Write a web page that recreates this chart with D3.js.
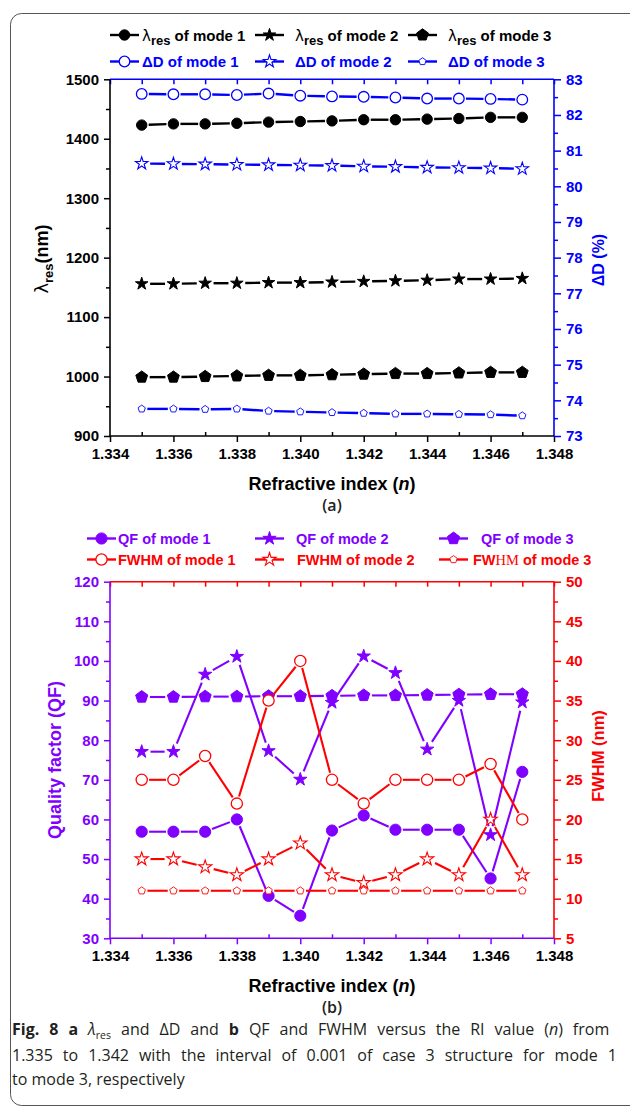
<!DOCTYPE html>
<html><head><meta charset="utf-8">
<script src="https://cdn.jsdelivr.net/npm/d3@7"></script>
<style>
body{margin:0;background:#fff}
svg{display:block}
text{font-family:"Liberation Sans",Arial,sans-serif}
</style>
</head><body>
<svg id="c" width="630" height="1108"></svg>
<script>
// ---------- DATA ----------
const refractiveIndex = [1.335,1.336,1.337,1.338,1.339,1.340,1.341,1.342,1.343,1.344,1.345,1.346,1.347];
const xMajorTicks = [1.334,1.336,1.338,1.340,1.342,1.344,1.346,1.348];
const xMinorTicks = [1.335,1.337,1.339,1.341,1.343,1.345,1.347];

const lambdaTicks = [900,1000,1100,1200,1300,1400,1500];
const deltaDTicks = [73,74,75,76,77,78,79,80,81,82,83];
const qfTicks = [30,40,50,60,70,80,90,100,110,120];
const fwhmTicks = [5,10,15,20,25,30,35,40,45,50];

const lambdaMode1 = [1423,1425,1425,1426,1428,1429,1430,1432,1432,1433,1434,1436,1436];
const lambdaMode2 = [1156,1156,1157,1157,1158,1158,1159,1160,1161,1162,1164,1164,1165];
const lambdaMode3 = [999,999,1000,1001,1002,1002,1003,1004,1005,1005,1006,1007,1007];
const deltaDMode1 = [82.59,82.58,82.58,82.56,82.60,82.54,82.52,82.51,82.49,82.46,82.46,82.45,82.43];
const deltaDMode2 = [80.64,80.63,80.62,80.61,80.60,80.59,80.58,80.56,80.55,80.53,80.52,80.51,80.49];
const deltaDMode3 = [73.76,73.76,73.75,73.76,73.70,73.68,73.66,73.64,73.62,73.62,73.61,73.60,73.57];

const qfMode1 = [56.9,56.9,56.9,60.0,40.7,35.7,57.2,61.0,57.4,57.4,57.4,45.1,72.0];
const qfMode2 = [77.1,77.1,96.6,101.1,77.3,70.1,89.5,101.2,97.0,77.7,90.0,56.1,89.6];
const qfMode3 = [90.9,90.9,91.0,91.0,91.1,91.1,91.2,91.3,91.3,91.4,91.5,91.6,91.6];
const fwhmMode1 = [25,25,28,22,35,40,25,22,25,25,25,27,20];
const fwhmMode2 = [15,15,14,13,15,17,13,12,13,15,13,20,13];
const fwhmMode3 = [11,11,11,11,11,11,11,11,11,11,11,11,11];

// ---------- STYLE ----------
const BLACK="#000000", BLUE="#0000ff", PURPLE="#8000ff", RED="#ff0000";
const svg = d3.select("#c");

// border of figure panel
svg.append("rect").attr("x",10.5).attr("y",13.5).attr("width",660).attr("height",1092)
  .attr("rx",11).attr("fill","none").attr("stroke","#555").attr("stroke-width",1);

// ---------- marker helpers ----------
function starPath(R){
  const r=R*0.382, pts=[];
  for(let k=0;k<10;k++){const a=-Math.PI/2+k*Math.PI/5, rr=k%2?r:R; pts.push([rr*Math.cos(a),rr*Math.sin(a)]);}
  return "M"+pts.map(p=>p.join(",")).join("L")+"Z";
}
function pentPath(R){
  const pts=[];
  for(let k=0;k<5;k++){const a=-Math.PI/2+k*2*Math.PI/5; pts.push([R*Math.cos(a),R*Math.sin(a)]);}
  return "M"+pts.map(p=>p.join(",")).join("L")+"Z";
}
function drawMarker(g,x,y,m,color){
  let el;
  if(m.shape==="circle") el=g.append("circle").attr("cx",x).attr("cy",y).attr("r",m.size);
  else el=g.append("path").attr("transform",`translate(${x},${y})`).attr("d",m.shape==="star"?starPath(m.size):pentPath(m.size));
  el.attr("fill",m.filled?color:"#fff").attr("stroke",color).attr("stroke-width",m.filled?1:(m.sw||1.3)).attr("stroke-linejoin","miter");
}
function drawSeries(g,xs,ys,xS,yS,color,m,lw){
  const pts=xs.map((v,i)=>[xS(v),yS(ys[i])]);
  const gap=m.size+1.8;
  for(let i=0;i<pts.length-1;i++){
    const [x1,y1]=pts[i],[x2,y2]=pts[i+1];
    const dx=x2-x1,dy=y2-y1,L=Math.hypot(dx,dy);
    if(L<=2*gap) continue;
    const ux=dx/L,uy=dy/L;
    g.append("line").attr("x1",x1+ux*gap).attr("y1",y1+uy*gap).attr("x2",x2-ux*gap).attr("y2",y2-uy*gap)
      .attr("stroke",color).attr("stroke-width",lw);
  }
  pts.forEach(p=>drawMarker(g,p[0],p[1],m,color));
}
function styleAxis(g,color,labelColor,fs){
  g.select(".domain").remove();
  g.selectAll(".tick line").attr("stroke",color).attr("stroke-width",1.5);
  g.selectAll(".tick text").attr("fill",labelColor).style("font-family","Liberation Sans").style("font-weight","bold").style("font-size",fs+"px");
}
function frame(g,P,cLeft,cBottom,cTop,cRight){
  const w=1.6;
  g.append("line").attr("x1",P.x0).attr("x2",P.x1).attr("y1",P.y0).attr("y2",P.y0).attr("stroke",cTop).attr("stroke-width",w);
  g.append("line").attr("x1",P.x1).attr("x2",P.x1).attr("y1",P.y0).attr("y2",P.y1).attr("stroke",cRight).attr("stroke-width",w);
  g.append("line").attr("x1",P.x0).attr("x2",P.x1).attr("y1",P.y1).attr("y2",P.y1).attr("stroke",cBottom).attr("stroke-width",w);
  g.append("line").attr("x1",P.x0).attr("x2",P.x0).attr("y1",P.y0).attr("y2",P.y1+0.8).attr("stroke",cLeft).attr("stroke-width",w);
}
function minorVals(arr){const out=[];for(let i=0;i<arr.length-1;i++)out.push((arr[i]+arr[i+1])/2);return out;}

function buildPanel(P,yLeftDom,yRightDom,leftTicks,rightTicks,cLeft,cRight,cTop,cBottom){
  const g=svg.append("g");
  const x=d3.scaleLinear().domain([1.334,1.348]).range([P.x0,P.x1]);
  const yL=d3.scaleLinear().domain(yLeftDom).range([P.y1,P.y0]);
  const yR=d3.scaleLinear().domain(yRightDom).range([P.y1,P.y0]);
  const gb=g.append("g").attr("transform",`translate(0,${P.y1})`)
    .call(d3.axisBottom(x).tickValues(xMajorTicks).tickSize(6).tickPadding(6).tickFormat(d3.format(".3f")));
  styleAxis(gb,cBottom,BLACK,15);
  const gbm=g.append("g").attr("transform",`translate(0,${P.y1})`)
    .call(d3.axisBottom(x).tickValues(xMinorTicks).tickSize(-4).tickFormat(""));
  styleAxis(gbm,cBottom,BLACK,15);
  const gt=g.append("g").attr("transform",`translate(0,${P.y0})`)
    .call(d3.axisTop(x).tickValues(xMajorTicks.concat(xMinorTicks)).tickSize(-5).tickFormat(""));
  styleAxis(gt,cTop,cTop,15);
  const gl=g.append("g").attr("transform",`translate(${P.x0},0)`)
    .call(d3.axisLeft(yL).tickValues(leftTicks).tickSize(6).tickPadding(5).tickFormat(d3.format("d")));
  styleAxis(gl,cLeft,cLeft,15);
  const glm=g.append("g").attr("transform",`translate(${P.x0},0)`)
    .call(d3.axisLeft(yL).tickValues(minorVals(leftTicks)).tickSize(4).tickFormat(""));
  styleAxis(glm,cLeft,cLeft,15);
  const gr=g.append("g").attr("transform",`translate(${P.x1},0)`)
    .call(d3.axisRight(yR).tickValues(rightTicks).tickSize(7).tickPadding(5).tickFormat(d3.format("d")));
  styleAxis(gr,cRight,cRight,15);
  const grm=g.append("g").attr("transform",`translate(${P.x1},0)`)
    .call(d3.axisRight(yR).tickValues(minorVals(rightTicks)).tickSize(4).tickFormat(""));
  styleAxis(grm,cRight,cRight,15);
  frame(g,P,cLeft,cBottom,cTop,cRight);
  return {g,x,yL,yR};
}

// ---------- PANEL A ----------
const PA={x0:110,x1:554,y0:79.3,y1:436};
const A=buildPanel(PA,[900,1500],[73,83],lambdaTicks,deltaDTicks,BLACK,BLUE,BLUE,BLACK);
const mkA={
  c1:{shape:"circle",size:5.2,filled:true}, s1:{shape:"star",size:6.6,filled:true}, p1:{shape:"pent",size:6.2,filled:true},
  oc:{shape:"circle",size:5.3,filled:false,sw:1.3}, os:{shape:"star",size:6.6,filled:false,sw:1.1}, op:{shape:"pent",size:3.8,filled:false,sw:0.9}
};
const seriesA=[
  {data:lambdaMode1,axis:"L",color:BLACK,m:mkA.c1,label:["λ","res"," of mode 1"]},
  {data:lambdaMode2,axis:"L",color:BLACK,m:mkA.s1,label:["λ","res"," of mode 2"]},
  {data:lambdaMode3,axis:"L",color:BLACK,m:mkA.p1,label:["λ","res"," of mode 3"]},
  {data:deltaDMode1,axis:"R",color:BLUE,m:mkA.oc,label:["ΔD of mode 1"]},
  {data:deltaDMode2,axis:"R",color:BLUE,m:mkA.os,label:["ΔD of mode 2"]},
  {data:deltaDMode3,axis:"R",color:BLUE,m:mkA.op,label:["ΔD of mode 3"]}
];
seriesA.forEach(s=>drawSeries(A.g,refractiveIndex,s.data,A.x,s.axis==="L"?A.yL:A.yR,s.color,s.m,2.4));

// ---------- PANEL B ----------
const PB={x0:110,x1:554,y0:581.7,y1:938.3};
const B=buildPanel(PB,[30,120],[5,50],qfTicks,fwhmTicks,PURPLE,RED,RED,PURPLE);
const mkB={
  c1:{shape:"circle",size:5.6,filled:true}, s1:{shape:"star",size:7,filled:true}, p1:{shape:"pent",size:6.4,filled:true},
  oc:{shape:"circle",size:5.6,filled:false,sw:1.3}, os:{shape:"star",size:7,filled:false,sw:1.1}, op:{shape:"pent",size:3.9,filled:false,sw:0.9}
};
const seriesB=[
  {data:qfMode1,axis:"L",color:PURPLE,m:mkB.c1,label:["QF of mode 1"]},
  {data:qfMode2,axis:"L",color:PURPLE,m:mkB.s1,label:["QF of mode 2"]},
  {data:qfMode3,axis:"L",color:PURPLE,m:mkB.p1,label:["QF of mode 3"]},
  {data:fwhmMode1,axis:"R",color:RED,m:mkB.oc,label:["FWHM of mode 1"]},
  {data:fwhmMode2,axis:"R",color:RED,m:mkB.os,label:["FWHM of mode 2"]},
  {data:fwhmMode3,axis:"R",color:RED,m:mkB.op,label:["FW","HM"," of mode 3"],serifPart:true}
];
seriesB.forEach(s=>drawSeries(B.g,refractiveIndex,s.data,B.x,s.axis==="L"?B.yL:B.yR,s.color,s.m,2.1));

// ---------- LEGENDS ----------
function legendItem(x0,yc,s,textX,fs){
  const g=svg.append("g");
  g.append("line").attr("x1",x0).attr("x2",x0+29).attr("y1",yc).attr("y2",yc).attr("stroke",s.color).attr("stroke-width",2.4);
  drawMarker(g,x0+14.5,yc,s.m,s.color);
  const t=g.append("text").attr("x",textX).attr("y",yc+5.5).attr("fill",s.color)
    .style("font-weight","bold").style("font-size",fs+"px");
  if(s.label.length===3 && s.label[0]==="λ"){
    t.append("tspan").text("λ").style("font-weight","normal").style("font-family","DejaVu Sans");
    t.append("tspan").text("res").attr("dy",4).style("font-size",(fs-2)+"px");
    t.append("tspan").text(s.label[2]).attr("dy",-4);
  } else if(s.serifPart){
    t.append("tspan").text(s.label[0]);
    t.append("tspan").text(s.label[1]).style("font-family","Liberation Serif").style("font-weight","normal");
    t.append("tspan").text(s.label[2]);
  } else t.text(s.label[0]);
}
const legAx=[110,255,408], legATx=[142,295,448];
seriesA.forEach((s,i)=>legendItem(legAx[i%3],i<3?35:61.5,s,legATx[i%3],15));
const legBx=[87,255,439], legBTx=[[118,296,481],[118,297,473]];
seriesB.forEach((s,i)=>legendItem(legBx[i%3],i<3?538.5:559.5,s,legBTx[i<3?0:1][i%3],14.5));

// ---------- AXIS TITLES ----------
function xTitle(y,sub,subY){
  const t=svg.append("text").attr("x",332).attr("y",y).attr("text-anchor","middle")
    .style("font-weight","bold").style("font-size","18px").attr("fill",BLACK);
  t.append("tspan").text("Refractive index (");
  t.append("tspan").text("n").style("font-style","italic");
  t.append("tspan").text(")");
  svg.append("text").attr("x",332).attr("y",subY).attr("text-anchor","middle")
    .style("font-family","Open Sans").style("font-weight","600").style("font-size","16px").attr("fill","#222").text(sub);
}
xTitle(490,"(a)",511);
xTitle(991.5,"(b)",1013);

const tLA=svg.append("text").attr("transform","translate(48,259) rotate(-90)").attr("text-anchor","middle")
  .style("font-weight","bold").style("font-size","18px").attr("fill",BLACK);
tLA.append("tspan").text("λ").style("font-weight","normal").style("font-family","DejaVu Sans");
tLA.append("tspan").text("res").attr("dy",5).style("font-size","13px");
tLA.append("tspan").text("(nm)").attr("dy",-5);
svg.append("text").attr("transform","translate(604,260) rotate(-90)").attr("text-anchor","middle")
  .style("font-weight","bold").style("font-size","16px").attr("fill",BLUE).text("ΔD (%)");
svg.append("text").attr("transform","translate(61,760) rotate(-90)").attr("text-anchor","middle")
  .style("font-weight","bold").style("font-size","18px").attr("fill",PURPLE).text("Quality factor (QF)");
svg.append("text").attr("transform","translate(604,756) rotate(-90)").attr("text-anchor","middle")
  .style("font-weight","bold").style("font-size","16.5px").attr("fill",RED).text("FWHM (nm)");

// ---------- CAPTION ----------
const capFont="Open Sans", capCol="#231f20";
function capLine(y){return svg.append("text").attr("x",12).attr("y",y).style("font-family",capFont).style("font-size","16px").attr("fill",capCol);}
function justify(t,target){
  const node=t.node(), len=node.getComputedTextLength();
  const spaces=(node.textContent.match(/ /g)||[]).length;
  if(spaces>0 && len<target) t.style("word-spacing",((target-len)/spaces)+"px");
}
const c1=capLine(1035);
c1.append("tspan").text("Fig. 8").style("font-weight","bold");
c1.append("tspan").text("  ");
c1.append("tspan").text("a").style("font-weight","bold");
c1.append("tspan").text(" ");
c1.append("tspan").text("λ").style("font-style","italic");
c1.append("tspan").text("res").attr("dy",4).style("font-size","10.5px");
c1.append("tspan").text(" and ΔD and ").attr("dy",-4);
c1.append("tspan").text("b").style("font-weight","bold");
c1.append("tspan").text(" QF and FWHM versus the RI value (");
c1.append("tspan").text("n").style("font-style","italic");
c1.append("tspan").text(") from");
justify(c1,603);
const c2=capLine(1060.5).text("1.335 to 1.342 with the interval of 0.001 of case 3 structure for mode 1");
justify(c2,605);
capLine(1085).text("to mode 3, respectively");
</script>
</body></html>
